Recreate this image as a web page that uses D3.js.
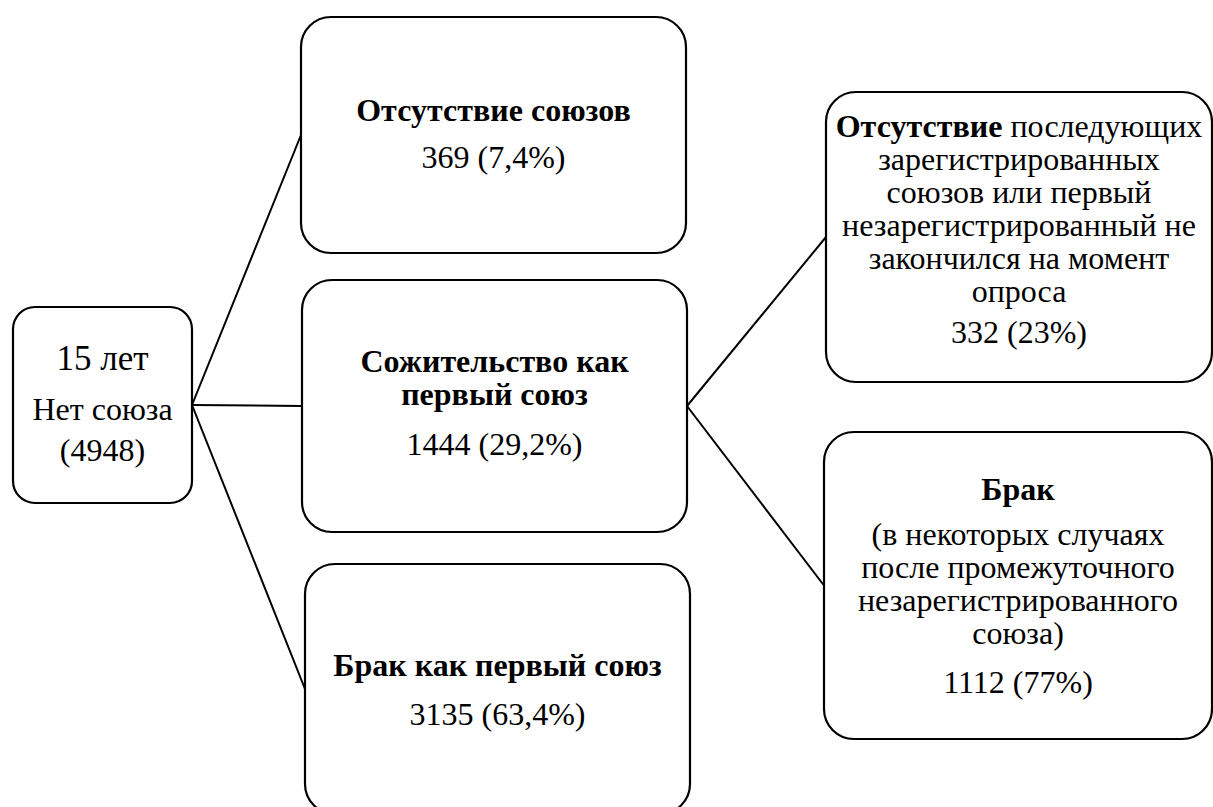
<!DOCTYPE html>
<html>
<head>
<meta charset="utf-8">
<script src="https://cdn.jsdelivr.net/npm/d3@7"></script>
<style>
  body { margin: 0; background: #fff; }
  svg { display: block; }
</style>
</head>
<body>
<div id="chart"></div>
<script>
// Data: union histories after age 15
const nodeIds = ["root", "none", "cohab", "marriage", "cohabNone", "cohabMarriage"];
const nodeCounts = [4948, 369, 1444, 3135, 332, 1112];
const nodeShares = [null, "7,4%", "29,2%", "63,4%", "23%", "77%"];
// label lines: each line is a list of [text, bold]
const nodeLabels = [
  [[["15 лет", false]], [["Нет союза", false]]],
  [[["Отсутствие союзов", true]]],
  [[["Сожительство как", true]], [["первый союз", true]]],
  [[["Брак как первый союз", true]]],
  [[["Отсутствие", true], [" последующих", false]],
   [["зарегистрированных", false]],
   [["союзов или первый", false]],
   [["незарегистрированный не", false]],
   [["закончился на момент", false]],
   [["опроса", false]]],
  [[["Брак", true]],
   [["(в некоторых случаях", false]],
   [["после промежуточного", false]],
   [["незарегистрированного", false]],
   [["союза)", false]]]
];
const links = [
  ["root", "none"], ["root", "cohab"], ["root", "marriage"],
  ["cohab", "cohabNone"], ["cohab", "cohabMarriage"]
];

// Layout of the boxes (pixels) and text baselines
const layout = {
  root:          { x: 13,  y: 307, w: 179, h: 196, r: 22, size: 32, first: 35, base: [370, 420, 461] },
  none:          { x: 301, y: 17,  w: 385, h: 236, r: 30, size: 32, base: [121, 168] },
  cohab:         { x: 302, y: 280, w: 385, h: 252, r: 30, size: 32, base: [372, 405, 455] },
  marriage:      { x: 305, y: 564, w: 385, h: 250, r: 30, size: 32, base: [676, 725] },
  cohabNone:     { x: 826, y: 92,  w: 386, h: 290, r: 30, size: 32, base: [137, 170, 203, 236, 269, 302, 343] },
  cohabMarriage: { x: 824, y: 432, w: 388, h: 307, r: 30, size: 32, base: [500, 545, 578, 611, 644, 693] }
};

const width = 1213;
const height = 807;
const fmt = d3.format("d");

const nodes = nodeIds.map((id, i) => {
  const lines = nodeLabels[i].slice();
  const countText = nodeShares[i] ? `${fmt(nodeCounts[i])} (${nodeShares[i]})` : `(${fmt(nodeCounts[i])})`;
  lines.push([[countText, false]]);
  return { id, lines, ...layout[id] };
});
const byId = new Map(nodes.map(d => [d.id, d]));

const svg = d3.select("#chart")
  .append("svg")
  .attr("width", width)
  .attr("height", height);

// connectors: right middle of source to left middle of target
svg.append("g")
  .selectAll("line")
  .data(links)
  .join("line")
  .attr("x1", d => byId.get(d[0]).x + byId.get(d[0]).w)
  .attr("y1", d => byId.get(d[0]).y + byId.get(d[0]).h / 2)
  .attr("x2", d => byId.get(d[1]).x)
  .attr("y2", d => byId.get(d[1]).y + byId.get(d[1]).h / 2)
  .attr("stroke", "#000")
  .attr("stroke-width", 2);

const box = svg.append("g")
  .selectAll("g")
  .data(nodes)
  .join("g");

box.append("rect")
  .attr("x", d => d.x)
  .attr("y", d => d.y)
  .attr("width", d => d.w)
  .attr("height", d => d.h)
  .attr("rx", d => d.r)
  .attr("fill", "#fff")
  .attr("stroke", "#000")
  .attr("stroke-width", 2.2);

box.each(function (d) {
  const g = d3.select(this);
  d.lines.forEach((line, i) => {
    const t = g.append("text")
      .attr("x", d.x + d.w / 2)
      .attr("y", d.base[i])
      .attr("text-anchor", "middle")
      .attr("font-family", "'Liberation Serif', 'Times New Roman', serif")
      .attr("font-size", i === 0 && d.first ? d.first : d.size)
      .attr("fill", "#000");
    line.forEach(([txt, bold]) => {
      t.append("tspan")
        .attr("font-weight", bold ? "bold" : "normal")
        .text(txt);
    });
  });
});
</script>
</body>
</html>
